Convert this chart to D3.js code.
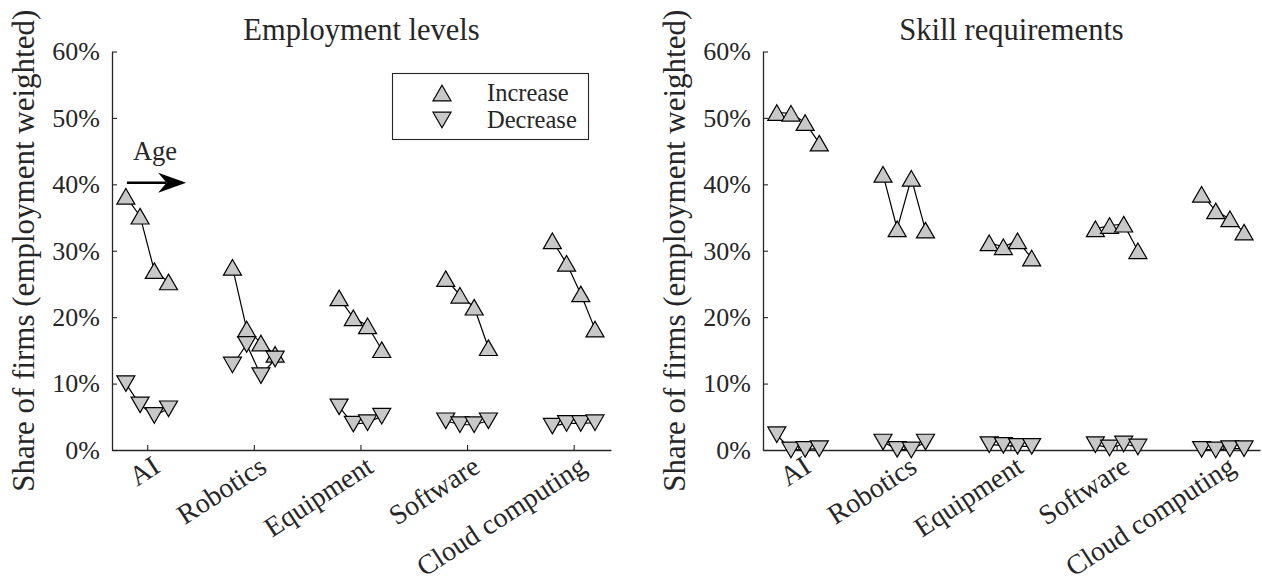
<!DOCTYPE html>
<html><head><meta charset="utf-8">
<script src="https://cdn.jsdelivr.net/npm/d3@7"></script>
<style>
body{margin:0;background:#fff}
svg{display:block}
text{font-family:"Liberation Serif","DejaVu Serif",serif;fill:#262626}
</style>
</head><body>
<svg id="c" width="1262" height="581" font-family="Liberation Serif, DejaVu Serif, serif"></svg>
<script>
// ---------- data ----------
const categories = ["AI", "Robotics", "Equipment", "Software", "Cloud computing"];
const ageOffsets = [-0.2, -0.0667, 0.0667, 0.2];
const yTicks = [0, 10, 20, 30, 40, 50, 60];
const yTickLabels = ["0%", "10%", "20%", "30%", "40%", "50%", "60%"];
const panelTitles = ["Employment levels", "Skill requirements"];
const yLabel = "Share of firms (employment weighted)";
const legendLabels = ["Increase", "Decrease"];

// Employment levels: rows = categories, cols = age groups (young -> old)
const empIncrease = [
  [38.2, 35.2, 27.0, 25.3],
  [27.5, 18.2, 16.1, 14.4],
  [22.9, 19.9, 18.7, 15.1],
  [25.8, 23.3, 21.5, 15.4],
  [31.5, 28.1, 23.5, 18.2]
];
const empDecrease = [
  [10.0, 6.8, 5.2, 6.2],
  [12.8, 15.9, 11.2, 13.7],
  [6.5, 3.9, 4.1, 5.1],
  [4.4, 3.8, 3.8, 4.4],
  [3.6, 4.0, 4.0, 4.1]
];
// Skill requirements
const skillIncrease = [
  [50.8, 50.7, 49.3, 46.2],
  [41.5, 33.3, 40.9, 33.1],
  [31.2, 30.6, 31.5, 28.9],
  [33.3, 33.8, 34.0, 30.0],
  [38.5, 36.0, 34.8, 32.8]
];
const skillDecrease = [
  [2.3, 0.0, 0.1, 0.2],
  [1.2, 0.1, 0.0, 1.2],
  [0.8, 0.7, 0.55, 0.55],
  [0.8, 0.3, 0.9, 0.45],
  [0.1, 0.0, 0.2, 0.2]
];

// ---------- drawing ----------
const svg = d3.select("#c");
const AX = "#262626";
const FILL = "#c8c8c8";
const FONT = "Liberation Serif, DejaVu Serif, serif";
const TW = 18, TH = 15.6;
const triUp = `M0,${-TH/2}L${TW/2},${TH/2}L${-TW/2},${TH/2}Z`;
const triDown = `M0,${TH/2}L${TW/2},${-TH/2}L${-TW/2},${-TH/2}Z`;

const y = d3.scaleLinear().domain([0, 60]).range([450, 51.5]);

function panel(left, right, title, inc, dec, extras) {
  const x = d3.scaleLinear().domain([0.67, 5.35]).range([left, right]);
  const g = svg.append("g");

  // y axis
  const ya = g.append("g").attr("transform", `translate(${left},0)`)
    .call(d3.axisLeft(y).tickValues(yTicks).tickFormat((d, i) => yTickLabels[i])
      .tickSizeInner(-5).tickSizeOuter(0).tickPadding(12));
  ya.attr("font-family", FONT);
  ya.select(".domain").attr("stroke", AX).attr("stroke-width", 1.3);
  ya.selectAll(".tick line").attr("stroke", AX).attr("stroke-width", 1.1);
  ya.selectAll(".tick text").attr("font-size", 26).attr("fill", AX);

  // x axis
  const xa = g.append("g").attr("transform", `translate(0,${y(0)})`)
    .call(d3.axisBottom(x).tickValues([1, 2, 3, 4, 5]).tickFormat((d) => categories[d - 1])
      .tickSizeInner(-5).tickSizeOuter(0));
  xa.attr("font-family", FONT);
  xa.select(".domain").attr("stroke", AX).attr("stroke-width", 1.3);
  xa.selectAll(".tick line").attr("stroke", AX).attr("stroke-width", 1.1);
  xa.selectAll(".tick text")
    .attr("font-size", 28).attr("fill", AX)
    .attr("text-anchor", "end").attr("y", 0).attr("dy", 0)
    .attr("transform", "translate(14,21) rotate(-33)");

  // title
  g.append("text").attr("x", (left + right) / 2).attr("y", 40)
    .attr("text-anchor", "middle").attr("font-size", 30.5).text(title);

  // y label
  g.append("text").attr("transform", `translate(${left - 78},${(y(0) + y(60)) / 2}) rotate(-90)`)
    .attr("text-anchor", "middle").attr("font-size", 31).text(yLabel);

  const line = d3.line().x((d) => x(d.x)).y((d) => y(d.v));
  function series(data, path) {
    data.forEach((row, ci) => {
      const pts = row.map((v, ai) => ({ x: ci + 1 + ageOffsets[ai], v }));
      g.append("path").attr("d", line(pts)).attr("fill", "none")
        .attr("stroke", "#000").attr("stroke-width", 1.2);
      g.selectAll(null).data(pts).enter().append("path")
        .attr("d", path)
        .attr("transform", (d) => `translate(${x(d.x)},${y(d.v)})`)
        .attr("fill", FILL).attr("stroke", "#000").attr("stroke-width", 1.2)
        .attr("stroke-linejoin", "miter");
    });
  }
  series(inc, triUp);
  series(dec, triDown);

  if (extras) extras(g, x);
}

panel(112, 611, panelTitles[0], empIncrease, empDecrease, (g, x) => {
  // legend
  const lg = g.append("g");
  lg.append("rect").attr("x", 392.5).attr("y", 73.5).attr("width", 196).attr("height", 66)
    .attr("fill", "#fff").attr("stroke", AX).attr("stroke-width", 1.1);
  [triUp, triDown].forEach((p, i) => {
    const yy = 93 + i * 27;
    lg.append("path").attr("d", p).attr("transform", `translate(442,${yy})`)
      .attr("fill", FILL).attr("stroke", "#000").attr("stroke-width", 1.2);
    lg.append("text").attr("x", 487).attr("y", yy).attr("dy", "0.33em")
      .attr("font-size", 24.5).text(legendLabels[i]);
  });
  // Age arrow
  const ax0 = x(0.81), ax1 = x(1.365), ay = 182.8;
  g.append("text").attr("x", ax0 + 6).attr("y", 160).attr("font-size", 26.5).text("Age");
  g.append("line").attr("x1", ax0).attr("x2", ax1 - 20).attr("y1", ay).attr("y2", ay)
    .attr("stroke", "#000").attr("stroke-width", 2.6);
  g.append("path")
    .attr("d", `M${ax1},${ay}L${ax1 - 28},${ay - 10}L${ax1 - 19.5},${ay}L${ax1 - 28},${ay + 10}Z`)
    .attr("fill", "#000");
});

panel(763, 1260, panelTitles[1], skillIncrease, skillDecrease, null);
</script>
</body></html>
